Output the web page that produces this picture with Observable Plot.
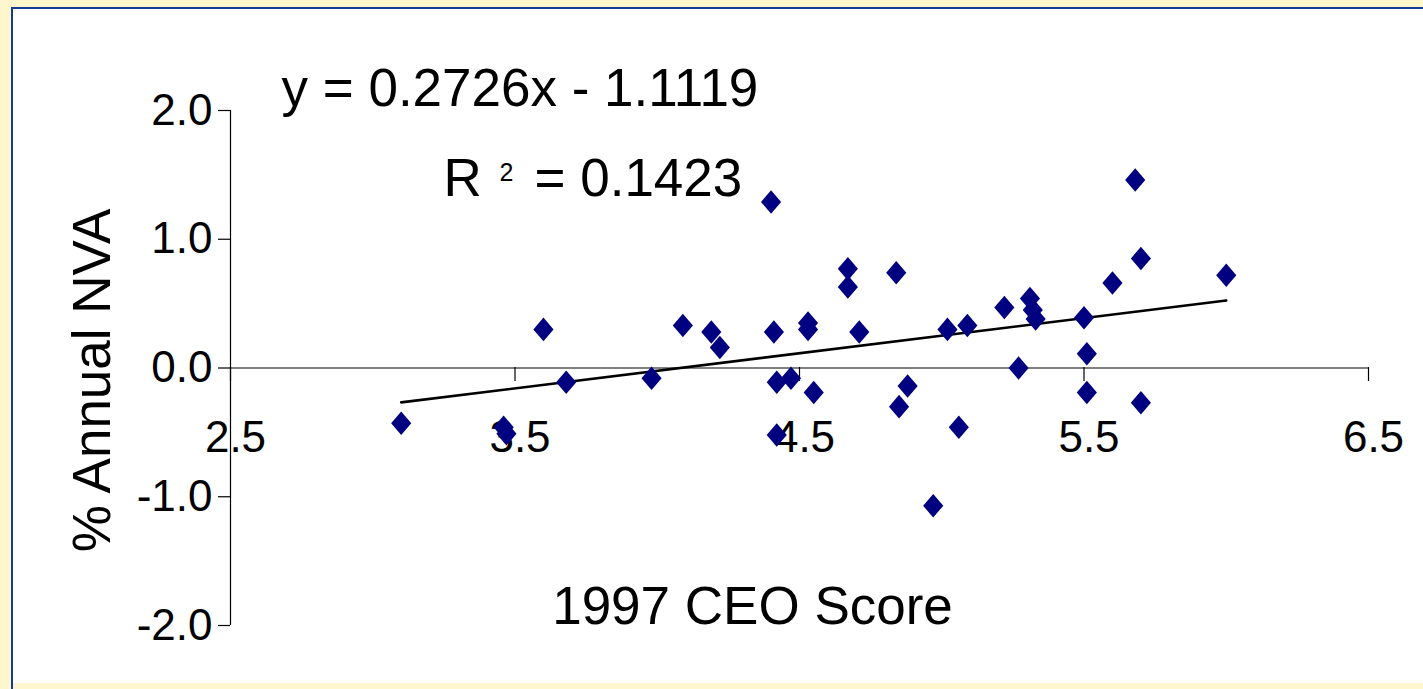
<!DOCTYPE html>
<html>
<head>
<meta charset="utf-8">
<script src="https://cdn.jsdelivr.net/npm/d3@7"></script>
<script src="https://cdn.jsdelivr.net/npm/@observablehq/plot@0.6"></script>
<style>
  html, body { margin: 0; padding: 0; background: #FEF6CC; width: 1423px; height: 689px; overflow: hidden; }
  #bg-top { position: absolute; left: 11px; top: 7px; width: 1412px; height: 2px; background: #163A96; }
  #bg-left { position: absolute; left: 11px; top: 7px; width: 2px; height: 682px; background: #163A96; }
  #panel { position: absolute; left: 13px; top: 9px; width: 1410px; height: 674px; background: #ffffff; }
  #chart { position: absolute; left: 0; top: 0; }
</style>
</head>
<body>
<div id="bg-top"></div>
<div id="bg-left"></div>
<div id="panel"></div>
<div id="chart"></div>
<script>
// Data
const ceoScore = [3.10, 3.46, 3.47, 3.60, 3.68, 3.98, 4.09, 4.19, 4.22, 4.40,
                  4.41, 4.42, 4.42, 4.47, 4.53, 4.53, 4.55, 4.67, 4.67, 4.71,
                  4.84, 4.85, 4.88, 4.97, 5.02, 5.06, 5.09, 5.22, 5.27, 5.31,
                  5.32, 5.33, 5.50, 5.51, 5.51, 5.60, 5.68, 5.70, 5.70, 6.00];
const annualNVA = [-0.43, -0.46, -0.51, 0.30, -0.11, -0.08, 0.33, 0.28, 0.16, 1.29,
                   0.28, -0.11, -0.52, -0.08, 0.35, 0.30, -0.19, 0.77, 0.63, 0.28,
                   0.74, -0.30, -0.14, -1.07, 0.30, -0.46, 0.33, 0.47, 0.00, 0.54,
                   0.45, 0.38, 0.39, 0.11, -0.19, 0.66, 1.46, 0.85, -0.27, 0.72];
// Trend line (as drawn: y = 0.2726x - 1.1119) endpoints
const trendX = [3.10, 6.00];
const trendY = [-0.267, 0.524];
const xTicks = [2.5, 3.5, 4.5, 5.5, 6.5];
const yTicks = [-2.0, -1.0, 0.0, 1.0, 2.0];
const equationText = "y = 0.2726x - 1.1119";
const rLabel = "R";
const rSup = "2";
const rValueText = "= 0.1423";
const xTitle = "1997 CEO Score";
const yTitle = "% Annual NVA";

const points = ceoScore.map((x, i) => ({x, y: annualNVA[i]}));
const trend = trendX.map((x, i) => ({x, y: trendY[i]}));

const diamond = {
  draw(context, size) {
    const r = Math.sqrt(size / Math.PI);
    const h = r * 0.98, w = r * 0.84;
    context.moveTo(0, -h);
    context.lineTo(w, 0);
    context.lineTo(0, h);
    context.lineTo(-w, 0);
    context.closePath();
  }
};

const font = "'Liberation Sans', Arial, Helvetica, sans-serif";
const fmt = d => d.toFixed(1);
const txt = {frameAnchor: "top-left", lineAnchor: "middle", fill: "#000"};

const chart = Plot.plot({
  width: 1423,
  height: 689,
  marginLeft: 230,
  marginRight: 55,
  marginTop: 110,
  marginBottom: 64,
  style: {fontFamily: font, background: "transparent", color: "#000", overflow: "visible"},
  x: {domain: [2.5, 6.5], axis: null},
  y: {domain: [-2, 2], axis: null},
  marks: [
    Plot.ruleX([2.5], {stroke: "#000", strokeWidth: 1.2}),
    Plot.ruleY([0], {stroke: "#000", strokeWidth: 1.2}),
    Plot.axisY({ticks: yTicks, tickFormat: fmt, tickSize: 12, tickPadding: 6, fontSize: 44, stroke: "#000", strokeWidth: 1.2, color: "#000", label: null}),
    Plot.axisX({ticks: xTicks, tickFormat: () => "", tickSize: 14, dy: -258, stroke: "#000", strokeWidth: 1.2, label: null}),
    Plot.axisX({ticks: xTicks, tickFormat: fmt, tickSize: 0, tickPadding: 53, dy: -258, dx: 5, fontSize: 44, color: "#000", label: null}),
    Plot.line(trend, {x: "x", y: "y", stroke: "#000", strokeWidth: 2.6}),
    Plot.dot(points, {x: "x", y: "y", symbol: diamond, r: 12, fill: "#000080", stroke: "none"}),
    Plot.text([equationText], {...txt, textAnchor: "start", dx: 51, dy: -21, fontSize: 53}),
    Plot.text([rLabel], {...txt, textAnchor: "start", dx: 213, dy: 69, fontSize: 53}),
    Plot.text([rSup], {...txt, textAnchor: "start", dx: 269, dy: 62, fontSize: 25}),
    Plot.text([rValueText], {...txt, textAnchor: "start", dx: 304, dy: 69, fontSize: 53}),
    Plot.text([xTitle], {...txt, textAnchor: "middle", dx: 522, dy: 497, fontSize: 53}),
    Plot.text([yTitle], {...txt, textAnchor: "middle", rotate: -90, dx: -137, dy: 270, fontSize: 53})
  ]
});
document.getElementById("chart").appendChild(chart);
</script>
</body>
</html>
